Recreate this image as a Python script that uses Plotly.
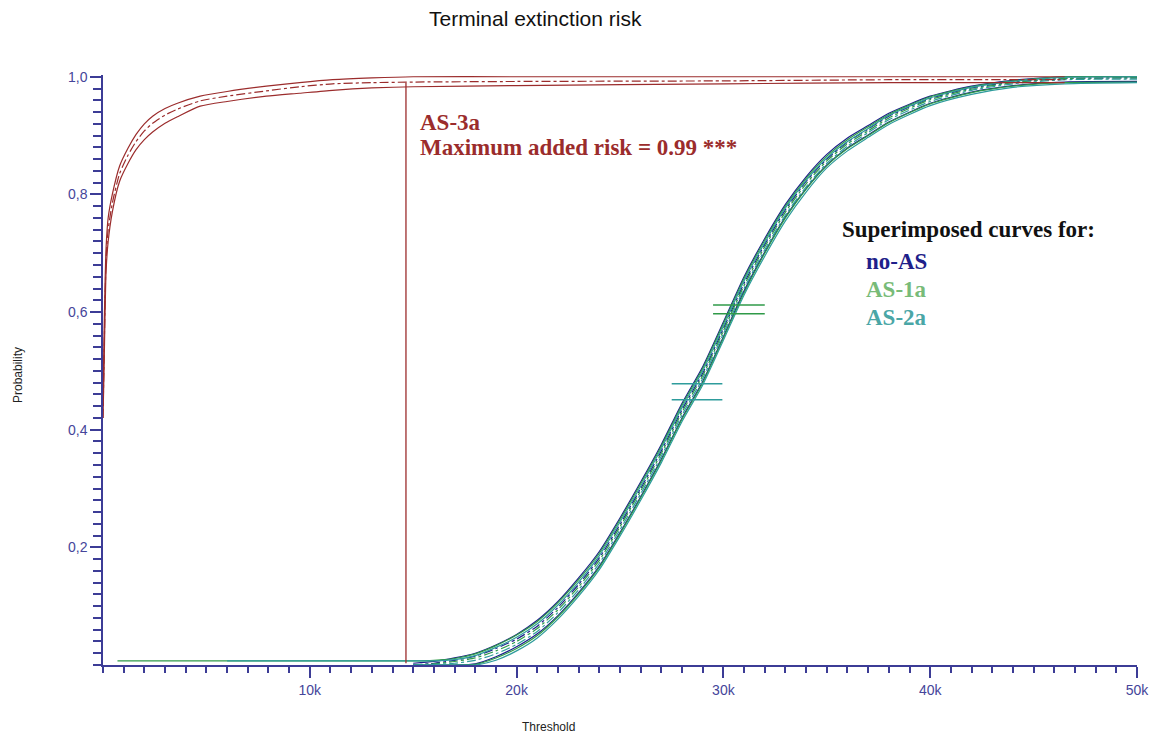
import plotly.graph_objects as go

# ---------------- data ----------------
# AS-3a (dark red): threshold -> probability
t_as3 = [0, 50, 100, 150, 250, 450, 800, 1200, 1600, 2000, 2400, 3000, 3600, 4700, 6000, 7900,
         9500, 11100, 13000, 15000, 20000, 30000, 38000, 46500]
as3_hi = [0.44, 0.56, 0.65, 0.71, 0.76, 0.80, 0.848, 0.878, 0.902, 0.92, 0.933, 0.946, 0.955, 0.967,
          0.975, 0.984, 0.990, 0.995, 0.998, 1.0, 1.0, 1.0, 1.0, 1.0]
as3_mean = [0.42, 0.52, 0.62, 0.69, 0.74, 0.785, 0.835, 0.866, 0.89, 0.908, 0.921, 0.935, 0.945, 0.959,
            0.967, 0.976, 0.983, 0.988, 0.990, 0.991, 0.992, 0.993, 0.995, 0.995]
as3_lo = [0.42, 0.50, 0.60, 0.67, 0.72, 0.77, 0.822, 0.852, 0.876, 0.893, 0.906, 0.921, 0.932, 0.950,
          0.958, 0.967, 0.972, 0.977, 0.981, 0.983, 0.985, 0.988, 0.990, 0.990]

# Superimposed curves (no-AS, AS-1a, AS-2a)
t_sup = [700, 6000, 15000, 16000, 17000, 18000, 19000, 20000, 21000, 22000, 23000, 24000,
         25000, 26000, 27000, 28000, 29000, 30000, 31000, 32000, 33000, 34000, 35000, 36000,
         37000, 38000, 40000, 42000, 44000, 46500, 50000]

noas_hi = [None, None, 0.003, 0.006, 0.012, 0.020, 0.034, 0.052, 0.076, 0.108, 0.148, 0.193,
           0.250, 0.311, 0.375, 0.445, 0.507, 0.583, 0.660, 0.725, 0.783, 0.830, 0.868, 0.896,
           0.917, 0.938, 0.967, 0.984, 0.994, 1.0, 1.0]
noas_mean = [None, None, 0.0, 0.003, 0.008, 0.015, 0.028, 0.044, 0.066, 0.098, 0.137, 0.182,
             0.239, 0.300, 0.364, 0.434, 0.496, 0.572, 0.649, 0.715, 0.774, 0.822, 0.860, 0.889,
             0.911, 0.933, 0.963, 0.981, 0.991, 0.997, 0.998]
noas_lo = [None, None, 0.0, 0.0, 0.0, 0.002, 0.014, 0.031, 0.053, 0.084, 0.123, 0.168,
           0.225, 0.286, 0.350, 0.420, 0.482, 0.558, 0.636, 0.702, 0.762, 0.810, 0.850, 0.879,
           0.901, 0.923, 0.955, 0.974, 0.985, 0.991, 0.992]

as1_hi = [0.007, 0.007, 0.007, 0.008, 0.011, 0.019, 0.033, 0.051, 0.074, 0.106, 0.145, 0.190,
          0.247, 0.308, 0.372, 0.442, 0.504, 0.580, 0.657, 0.722, 0.780, 0.827, 0.865, 0.893,
          0.915, 0.936, 0.966, 0.983, 0.993, 1.0, 1.0]
as1_mean = [None, None, 0.0, 0.002, 0.006, 0.012, 0.024, 0.040, 0.062, 0.094, 0.133, 0.178,
            0.235, 0.296, 0.360, 0.430, 0.492, 0.568, 0.645, 0.711, 0.770, 0.818, 0.857, 0.886,
            0.908, 0.930, 0.961, 0.979, 0.990, 0.997, 0.998]
as1_lo = [None, None, 0.0, 0.0, 0.0, 0.001, 0.012, 0.028, 0.050, 0.082, 0.121, 0.166,
          0.223, 0.284, 0.348, 0.418, 0.480, 0.556, 0.633, 0.700, 0.760, 0.809, 0.849, 0.878,
          0.900, 0.922, 0.954, 0.973, 0.984, 0.990, 0.991]

as2_hi = [None, 0.007, 0.007, 0.007, 0.009, 0.016, 0.030, 0.047, 0.070, 0.102, 0.141, 0.186,
          0.243, 0.304, 0.368, 0.438, 0.500, 0.576, 0.653, 0.718, 0.777, 0.824, 0.862, 0.890,
          0.912, 0.934, 0.964, 0.982, 0.992, 0.999, 1.0]
as2_mean = [None, None, 0.0, 0.001, 0.003, 0.008, 0.019, 0.035, 0.057, 0.089, 0.128, 0.173,
            0.230, 0.291, 0.355, 0.425, 0.487, 0.563, 0.640, 0.706, 0.765, 0.813, 0.853, 0.882,
            0.905, 0.927, 0.958, 0.977, 0.988, 0.995, 0.996]
as2_lo = [None, None, 0.0, 0.0, 0.0, 0.0, 0.008, 0.024, 0.046, 0.078, 0.117, 0.162,
          0.219, 0.280, 0.344, 0.414, 0.476, 0.552, 0.629, 0.695, 0.755, 0.804, 0.845, 0.874,
          0.897, 0.919, 0.951, 0.970, 0.982, 0.988, 0.990]

# confidence cross-bars
as1_bar_x = [29500, 32000]
as1_bar_y = [0.612, 0.597]
as2_bar_x = [27500, 29950]
as2_bar_y = [0.478, 0.451]

# maximum added risk marker
max_risk_x = 14650
max_risk_y = [0.003, 0.99]

x_tickvals = [10000, 20000, 30000, 40000, 50000]
x_ticktext = ["10k", "20k", "30k", "40k", "50k"]
y_tickvals = [0.2, 0.4, 0.6, 0.8, 1.0]
y_ticktext = ["0,2", "0,4", "0,6", "0,8", "1,0"]

# ---------------- style ----------------
C_AS3 = "#9b2c2c"
C_NOAS = "#1d1d8c"
C_AS1 = "#2f9a48"
C_AS2 = "#2e9c9c"
AXC = "#3c3c96"
SERIF = "Liberation Serif, Times New Roman, serif"
SANS = "Liberation Sans, Arial, sans-serif"

fig = go.Figure()


def add_line(x, y, color, dash="solid", width=1.2):
    fig.add_trace(go.Scatter(x=x, y=y, mode="lines", showlegend=False, hoverinfo="skip",
                             line=dict(color=color, width=width, dash=dash, shape="spline",
                                       smoothing=0.6)))


for hi, mean, lo, col in [(noas_hi, noas_mean, noas_lo, C_NOAS),
                          (as1_hi, as1_mean, as1_lo, C_AS1),
                          (as2_hi, as2_mean, as2_lo, C_AS2)]:
    add_line(t_sup, hi, col)
    add_line(t_sup, lo, col)
    add_line(t_sup, mean, col, dash="dashdot")

add_line(t_as3, as3_hi, C_AS3)
add_line(t_as3, as3_lo, C_AS3)
add_line(t_as3, as3_mean, C_AS3, dash="dashdot")

# max added risk vertical line
fig.add_trace(go.Scatter(x=[max_risk_x, max_risk_x], y=max_risk_y, mode="lines",
                         showlegend=False, hoverinfo="skip",
                         line=dict(color=C_AS3, width=1.3)))

# cross-bars
for xs, ys, col in [(as1_bar_x, as1_bar_y, C_AS1), (as2_bar_x, as2_bar_y, C_AS2)]:
    for yv in ys:
        fig.add_trace(go.Scatter(x=xs, y=[yv, yv], mode="lines", showlegend=False,
                                 hoverinfo="skip", line=dict(color=col, width=1.6)))


# positions below are given in page pixels (plot area: x 103..1137, y 75..665)
def px(x):
    return (x - 103) / 1034


def py(y):
    return (665 - y) / 590


annotations = [
    dict(text="Terminal extinction risk", xref="paper", yref="paper",
         x=px(535), y=py(19), xanchor="center", yanchor="middle",
         showarrow=False, font=dict(family=SANS, size=21, color="#111111")),
    dict(text="Probability", xref="paper", yref="paper", textangle=-90,
         x=px(18), y=py(375), xanchor="center", yanchor="middle",
         showarrow=False, font=dict(family=SANS, size=12, color="#222222")),
    dict(text="Threshold", xref="paper", yref="paper",
         x=px(548), y=py(727), xanchor="center", yanchor="middle",
         showarrow=False, font=dict(family=SANS, size=12, color="#222222")),
    dict(text="<b>AS-3a</b>", xref="x", yref="y", x=15250, y=0.923,
         xanchor="left", yanchor="middle", showarrow=False,
         font=dict(family=SERIF, size=23, color=C_AS3)),
    dict(text="<b>Maximum added risk = 0.99 ***</b>", xref="x", yref="y", x=15250, y=0.879,
         xanchor="left", yanchor="middle", showarrow=False,
         font=dict(family=SERIF, size=23, color=C_AS3)),
    dict(text="<b>Superimposed curves for:</b>", xref="x", yref="y", x=35630, y=0.740,
         xanchor="left", yanchor="middle", showarrow=False,
         font=dict(family=SERIF, size=23, color="#111111")),
    dict(text="<b>no-AS</b>", xref="x", yref="y", x=36790, y=0.686,
         xanchor="left", yanchor="middle", showarrow=False,
         font=dict(family=SERIF, size=23, color="#1f1f8a")),
    dict(text="<b>AS-1a</b>", xref="x", yref="y", x=36790, y=0.638,
         xanchor="left", yanchor="middle", showarrow=False,
         font=dict(family=SERIF, size=23, color="#78bb78")),
    dict(text="<b>AS-2a</b>", xref="x", yref="y", x=36790, y=0.590,
         xanchor="left", yanchor="middle", showarrow=False,
         font=dict(family=SERIF, size=23, color="#4aa6a6")),
]

fig.update_layout(
    width=1155, height=738,
    margin=dict(l=103, r=18, t=75, b=73),
    paper_bgcolor="white", plot_bgcolor="white",
    annotations=annotations,
    xaxis=dict(range=[0, 50000], showgrid=False, zeroline=False, automargin=False,
               showline=True, linecolor=AXC, linewidth=1.5,
               tickmode="array", tickvals=x_tickvals, ticktext=x_ticktext,
               ticks="outside", ticklen=11, tickwidth=1.5, tickcolor=AXC,
               tickfont=dict(family=SANS, size=14, color="#45459a"),
               minor=dict(tickmode="linear", tick0=0, dtick=1000, ticks="outside",
                          ticklen=6, tickwidth=1.5, tickcolor=AXC, showgrid=False)),
    yaxis=dict(range=[0, 1.003], showgrid=False, zeroline=False, automargin=False,
               showline=True, linecolor=AXC, linewidth=1.5,
               tickmode="array", tickvals=y_tickvals, ticktext=y_ticktext,
               ticks="outside", ticklen=11, tickwidth=1.5, tickcolor=AXC,
               tickfont=dict(family=SANS, size=14, color="#45459a"),
               minor=dict(tickmode="linear", tick0=0, dtick=0.02, ticks="outside",
                          ticklen=8, tickwidth=1.5, tickcolor=AXC, showgrid=False)),
)

# remove the default 8px page margin so the 1155x738 figure fills the window exactly
fig.write_html("out.html",
               config={"displayModeBar": False},
               post_script="document.body.style.margin='0px';document.body.style.overflow='hidden';")
